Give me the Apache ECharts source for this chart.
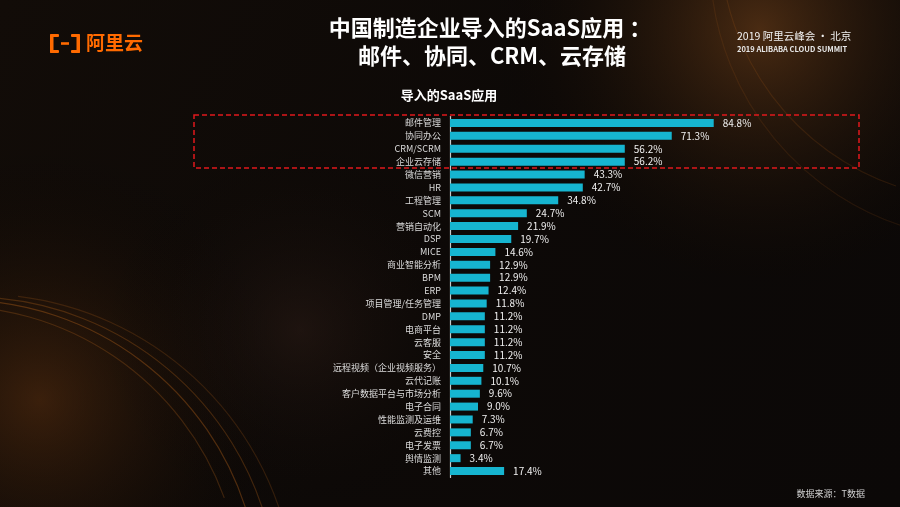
<!DOCTYPE html>
<html>
<head>
<meta charset="utf-8">
<script src="https://cdn.jsdelivr.net/npm/echarts@6/dist/echarts.min.js"></script>
<style>
html,body{margin:0;padding:0;background:#0c0806;}
#chart{width:900px;height:507px;}
</style>
</head>
<body>
<div id="chart"></div>
<script>
var categories = ['邮件管理','协同办公','CRM/SCRM','企业云存储','微信营销','HR','工程管理','SCM','营销自动化','DSP','MICE','商业智能分析','BPM','ERP','项目管理/任务管理','DMP','电商平台','云客服','安全','远程视频（企业视频服务）','云代记账','客户数据平台与市场分析','电子合同','性能监测及运维','云费控','电子发票','舆情监测','其他'];
var values = [84.8,71.3,56.2,56.2,43.3,42.7,34.8,24.7,21.9,19.7,14.6,12.9,12.9,12.4,11.8,11.2,11.2,11.2,11.2,10.7,10.1,9.6,9.0,7.3,6.7,6.7,3.4,17.4];
var titleLine1 = '中国制造企业导入的SaaS应用 ：';
var titleLine2 = '邮件、协同、CRM、云存储';
var chartTitle = '导入的SaaS应用';
var sourceText = '数据来源：T数据';

var FONT = '"Noto Sans CJK SC","Noto Sans",sans-serif';
var chart = echarts.init(document.getElementById('chart'));

function glow(cx, cy, r, color, op) {
  return {
    type: 'circle', silent: true, z: -10,
    shape: {cx: cx, cy: cy, r: r},
    style: {
      opacity: op,
      fill: {type: 'radial', x: 0.5, y: 0.5, r: 0.5,
        colorStops: [{offset: 0, color: color}, {offset: 1, color: 'rgba(0,0,0,0)'}]}
    }
  };
}
function arc(cx, cy, r, a0, a1, op) {
  return {
    type: 'arc', silent: true, z: -5,
    shape: {cx: cx, cy: cy, r: r, startAngle: a0, endAngle: a1},
    style: {stroke: 'rgba(200,110,30,' + op + ')', lineWidth: 1.2, fill: null}
  };
}

var graphics = [
  glow(760, 30, 280, 'rgba(115,66,26,0.6)', 1),
  glow(40, 400, 260, 'rgba(100,52,16,0.5)', 1),
  glow(300, 330, 200, 'rgba(60,38,30,0.35)', 1),
  arc(-40, 600, 300, -1.55, -0.3, 0.35),
  arc(-30, 605, 308, -1.5, -0.25, 0.28),
  arc(-50, 598, 292, -1.6, -0.35, 0.25),
  arc(-20, 610, 316, -1.45, -0.2, 0.2),
  arc(980, -60, 260, 1.9, 3.1, 0.15),
  arc(990, -40, 280, 1.85, 3.05, 0.12),
  // dashed highlight box
  {type: 'rect', z: 100, zlevel: 1, silent: true,
   shape: {x: 194, y: 115, width: 665, height: 53},
   style: {fill: 'rgba(0,0,0,0)', stroke: '#e0191d', lineWidth: 1.5, lineDash: [5, 3]}},
  // logo
  {type: 'group', left: 50, top: 33, children: [
    {type: 'rect', shape: {x: 0, y: 0, width: 9, height: 3, r: 1}, style: {fill: '#ff6a00'}},
    {type: 'rect', shape: {x: 0, y: 0, width: 3.5, height: 19, r: 1.5}, style: {fill: '#ff6a00'}},
    {type: 'rect', shape: {x: 0, y: 16, width: 9, height: 3, r: 1}, style: {fill: '#ff6a00'}},
    {type: 'rect', shape: {x: 11, y: 8.2, width: 8, height: 2.6}, style: {fill: '#ff6a00'}},
    {type: 'rect', shape: {x: 21, y: 0, width: 9, height: 3, r: 1}, style: {fill: '#ff6a00'}},
    {type: 'rect', shape: {x: 26.5, y: 0, width: 3.5, height: 19, r: 1.5}, style: {fill: '#ff6a00'}},
    {type: 'rect', shape: {x: 21, y: 16, width: 9, height: 3, r: 1}, style: {fill: '#ff6a00'}},
    {type: 'text', style: {x: 36, y: -1, text: '阿里云', fill: '#ff6a00', font: 'bold 19px ' + FONT}}
  ]},
  // top right
  {type: 'text', style: {x: 737, y: 31, text: '2019 阿里云峰会 · 北京', fill: '#f2f2f2', font: '10.5px ' + FONT}},
  {type: 'text', style: {x: 737, y: 45.5, text: '2019 ALIBABA CLOUD SUMMIT', fill: '#e8e8e8', font: 'bold 7.5px ' + FONT}},
  // titles
  {type: 'text', style: {x: 490, y: 17, text: titleLine1, align: 'center', fill: '#ffffff', font: 'bold 22px ' + FONT}},
  {type: 'text', style: {x: 492, y: 45, text: titleLine2, align: 'center', fill: '#ffffff', font: 'bold 22px ' + FONT}},
  {type: 'text', style: {x: 449, y: 89, text: chartTitle, align: 'center', fill: '#ffffff', font: 'bold 13px ' + FONT}},
  {type: 'text', style: {x: 865, y: 489, text: sourceText, align: 'right', fill: '#d0d0d0', font: '9px ' + FONT}}
];

chart.setOption({
  backgroundColor: {type: 'linear', x: 0, y: 0, x2: 1, y2: 1,
    colorStops: [{offset: 0, color: '#120c08'}, {offset: 0.5, color: '#0d0907'}, {offset: 1, color: '#0b0807'}]},
  animation: false,
  textStyle: {fontFamily: FONT},
  graphic: graphics,
  grid: {left: 450, top: 116.5, width: 311, height: 361, containLabel: false},
  xAxis: {type: 'value', min: 0, max: 100, show: false},
  yAxis: {
    type: 'category', data: categories, inverse: true,
    axisLine: {show: true, lineStyle: {color: '#c8c8c8', width: 1.2}},
    axisTick: {show: false},
    axisLabel: {color: '#dcdcdc', fontSize: 9, margin: 9, fontFamily: FONT}
  },
  series: [{
    type: 'bar', data: values, barWidth: 8,
    itemStyle: {color: '#16b5d0'},
    label: {show: true, position: 'right', distance: 9, color: '#f0f0f0', fontSize: 10,
      fontFamily: FONT,
      formatter: function (p) { return p.value.toFixed(1) + '%'; }}
  }]
});
</script>
</body>
</html>
